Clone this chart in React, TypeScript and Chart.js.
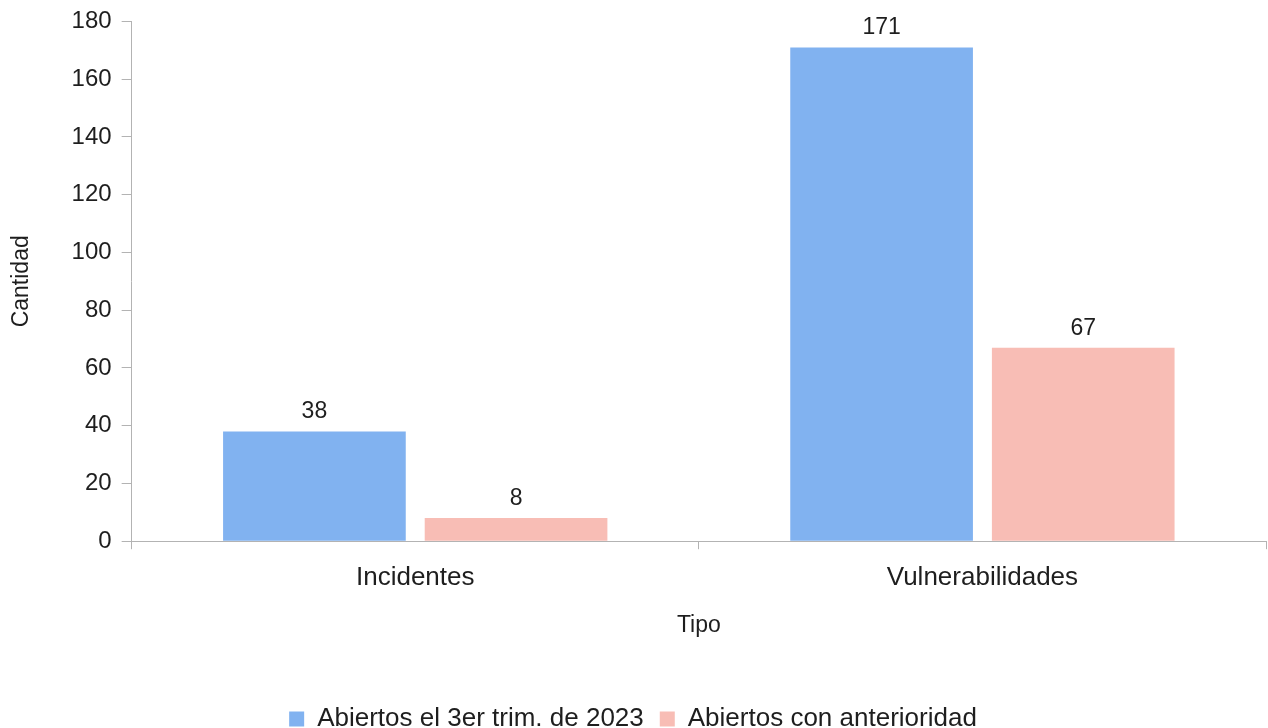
import React, { useEffect, useRef } from "react";
import { Chart, registerables } from "chart.js";

Chart.register(...registerables);

const categories = ["Incidentes", "Vulnerabilidades"];
const seriesNames = ["Abiertos el 3er trim. de 2023", "Abiertos con anterioridad"];
const abiertos3erTrim = [38, 171];
const abiertosAnterioridad = [8, 67];
const yTicks = [0, 20, 40, 60, 80, 100, 120, 140, 160, 180];

const FONT = "'Liberation Sans', Arial, sans-serif";
const TEXT = "#1e1e1e";
const AXIS = "#b3b3b3";

const valueLabels = {
  id: "valueLabels",
  afterDatasetsDraw(chart: any) {
    const ctx = chart.ctx;
    ctx.save();
    ctx.font = `23px ${FONT}`;
    ctx.fillStyle = TEXT;
    ctx.textAlign = "center";
    ctx.textBaseline = "alphabetic";
    chart.data.datasets.forEach((ds: any, i: number) => {
      const meta = chart.getDatasetMeta(i);
      meta.data.forEach((bar: any, j: number) => {
        ctx.fillText(String(ds.data[j]), bar.x, bar.y - 13);
      });
    });
    ctx.restore();
  },
};

export default function App() {
  const ref = useRef<HTMLCanvasElement>(null);
  useEffect(() => {
    document.body.style.margin = "0";
    const chart = new Chart(ref.current!, {
      type: "bar",
      data: {
        labels: categories,
        datasets: [
          {
            label: seriesNames[0],
            data: abiertos3erTrim,
            backgroundColor: "#81b2f0",
            categoryPercentage: 0.711,
            barPercentage: 0.906,
          },
          {
            label: seriesNames[1],
            data: abiertosAnterioridad,
            backgroundColor: "#f8bdb5",
            categoryPercentage: 0.711,
            barPercentage: 0.906,
          },
        ],
      },
      options: {
        animation: false,
        responsive: false,
        maintainAspectRatio: false,
        layout: { padding: { top: 0, right: 2, bottom: -14, left: 0 } },
        plugins: {
          tooltip: { enabled: false },
          legend: {
            position: "bottom",
            labels: {
              font: { family: FONT, size: 26 },
              color: TEXT,
              boxWidth: 15,
              boxHeight: 15,
              padding: 16,
            },
          },
        },
        scales: {
          x: {
            grid: {
              drawOnChartArea: false,
              color: AXIS,
              tickLength: 8,
              offset: true,
            },
            border: { color: AXIS },
            ticks: { font: { family: FONT, size: 26 }, color: TEXT, padding: 13 },
            title: {
              display: true,
              text: "Tipo",
              font: { family: FONT, size: 23 },
              color: TEXT,
              padding: { top: 5, bottom: 51 },
            },
          },
          y: {
            min: 0,
            max: 180,
            afterBuildTicks: (axis: any) => {
              axis.ticks = yTicks.map((v) => ({ value: v }));
            },
            grid: { drawOnChartArea: false, color: AXIS, tickLength: 10 },
            border: { color: AXIS },
            ticks: {
              font: { family: FONT, size: 24, lineHeight: 0.95 },
              color: TEXT,
              padding: 10,
            },
            title: {
              display: true,
              text: "Cantidad",
              font: { family: FONT, size: 23 },
              color: TEXT,
              padding: { top: 8, bottom: 26 },
            },
          },
        },
      },
      plugins: [valueLabels],
    });
    return () => chart.destroy();
  }, []);
  return (
    <div style={{ position: "fixed", left: 0, top: 0, width: 1268, height: 728 }}>
      <canvas ref={ref} width={1268} height={728} />
    </div>
  );
}
